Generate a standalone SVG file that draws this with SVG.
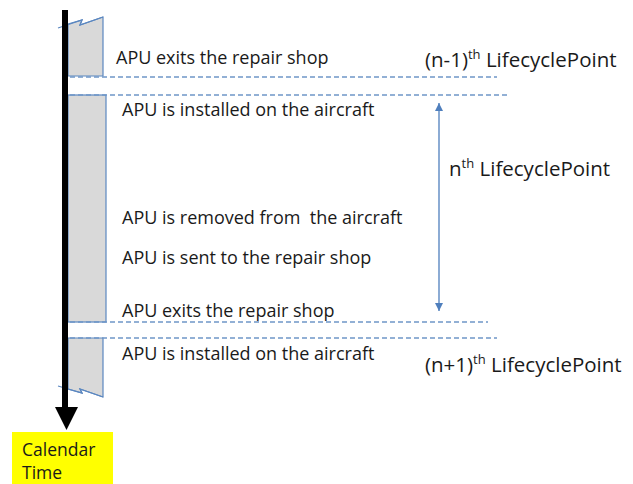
<svg xmlns="http://www.w3.org/2000/svg" width="633" height="484" viewBox="0 0 633 484">
<style>
.t{font-family:"Open Sans","Liberation Sans",sans-serif;font-size:18px;fill:#1a1a1a}
.l{font-family:"Open Sans","Liberation Sans",sans-serif;font-size:20.5px;fill:#1a1a1a}
.sup{font-size:13px}
.box{fill:#d9d9d9;stroke:#5b87c0;stroke-width:1.2}
.dash{stroke:#6f96c8;stroke-width:1.3;stroke-dasharray:5 3;fill:none}
.arr{stroke:#4f7fbd;stroke-width:1.3;fill:none}
</style>
<defs>
<marker id="ah" viewBox="0 0 10 10" refX="10" refY="5" markerWidth="8" markerHeight="8" markerUnits="userSpaceOnUse" orient="auto-start-reverse">
<path d="M0,0 L10,5 L0,10 z" fill="#4f7fbd"/>
</marker>
</defs>
<rect x="0" y="0" width="633" height="484" fill="#ffffff"/>
<g id="box-prev">
<path class="box" d="M68,24 L82,20 L80,25 L103,17 L103,76 L68,76 Z"/>
<path d="M58,28 L82,20 L80,25 L103,17" fill="none" stroke="#5b87c0" stroke-width="1.2"/>
</g>
<g id="box-n">
<rect class="box" x="68" y="95" width="38" height="227"/>
</g>
<g id="box-next">
<path class="box" d="M68,338 L103,338 L103,397 L80,389 L82,393 L68,389 Z"/>
<path d="M58,386 L82,393 L80,389 L103,397" fill="none" stroke="#5b87c0" stroke-width="1.2"/>
</g>
<g id="timeline">
<rect x="62" y="10" width="6" height="400" fill="#000000"/>
<path d="M55,407 L78,407 L66.5,430 Z" fill="#000000"/>
</g>
<g id="connectors">
<line class="dash" x1="70" y1="77" x2="497" y2="77"/>
<line class="dash" x1="70" y1="95" x2="510" y2="95"/>
<line class="dash" x1="70" y1="322" x2="488" y2="322"/>
<line class="dash" x1="70" y1="338" x2="497" y2="338"/>
<line class="arr" x1="439" y1="103" x2="439" y2="311" marker-start="url(#ah)" marker-end="url(#ah)"/>
</g>
<g id="events">
<text class="t" x="116" y="64">APU exits the repair shop</text>
<text class="t" x="122" y="116">APU is installed on the aircraft</text>
<text class="t" x="122" y="224" xml:space="preserve">APU is removed from  the aircraft</text>
<text class="t" x="122" y="264">APU is sent to the repair shop</text>
<text class="t" x="122" y="317">APU exits the repair shop</text>
<text class="t" x="122" y="360">APU is installed on the aircraft</text>
</g>
<g id="label-prev">
<text class="l" x="425" y="67">(n-1)<tspan class="sup" dy="-8">th</tspan><tspan dy="8"> LifecyclePoint</tspan></text>
</g>
<g id="label-n">
<text class="l" x="449" y="176">n<tspan class="sup" dy="-8">th</tspan><tspan dy="8"> LifecyclePoint</tspan></text>
</g>
<g id="label-next">
<text class="l" x="425" y="372">(n+1)<tspan class="sup" dy="-8">th</tspan><tspan dy="8"> LifecyclePoint</tspan></text>
</g>
<g id="calendar-time">
<rect x="12" y="432" width="101" height="52" fill="#ffff00"/>
<text class="t" x="22" y="456" style="font-size:17.5px">Calendar</text>
<text class="t" x="22" y="479" style="font-size:17.5px">Time</text>
</g>
</svg>
